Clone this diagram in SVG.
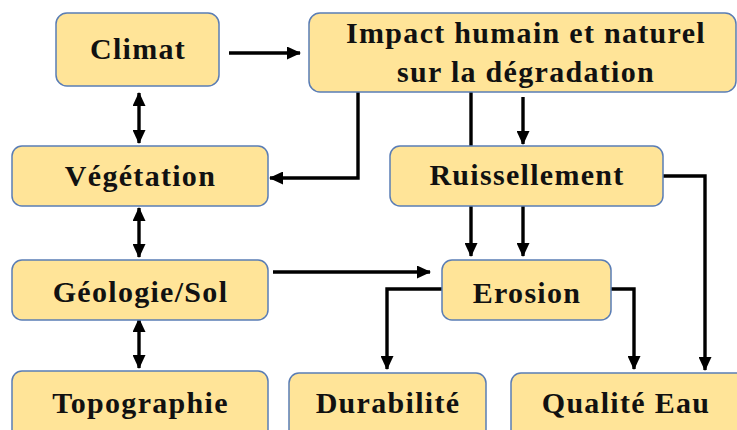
<svg xmlns="http://www.w3.org/2000/svg" width="737" height="430" viewBox="0 0 737 430">
  <style>
    .box { fill: #FFE498; stroke: #5A7DB5; stroke-width: 1.5; }
    .lbl { font-family: "Liberation Serif", "Times New Roman", serif; font-weight: bold; font-size: 30px; letter-spacing: 1.3px; fill: #111; text-anchor: middle; }
    .wire { fill: none; stroke: #000; stroke-width: 3.4; }
  </style>
  <defs>
    <marker id="head" viewBox="0 0 14 13" refX="13" refY="6.5" markerWidth="14" markerHeight="13" markerUnits="userSpaceOnUse" orient="auto-start-reverse">
      <path d="M0,0 L14,6.5 L0,13 Z" fill="#000"/>
    </marker>
  </defs>
  <rect width="737" height="430" fill="#fff"/>

  <!-- connectors -->
  <g id="connectors">
    <path class="wire" d="M229,53 H300" marker-end="url(#head)"/>
    <path class="wire" d="M139,93 V143" marker-start="url(#head)" marker-end="url(#head)"/>
    <path class="wire" d="M139,208 V257" marker-start="url(#head)" marker-end="url(#head)"/>
    <path class="wire" d="M139,319 V368" marker-start="url(#head)" marker-end="url(#head)"/>
    <path class="wire" d="M358,89 V178 H270" marker-end="url(#head)"/>
    <path class="wire" d="M471,92 V256" marker-end="url(#head)"/>
    <path class="wire" d="M523,97 V144" marker-end="url(#head)"/>
    <path class="wire" d="M523,206 V256" marker-end="url(#head)"/>
    <path class="wire" d="M663,176 H705 V370" marker-end="url(#head)"/>
    <path class="wire" d="M273,272 H430" marker-end="url(#head)"/>
    <path class="wire" d="M442,289 H387 V369" marker-end="url(#head)"/>
    <path class="wire" d="M611,289 H634 V369" marker-end="url(#head)"/>
  </g>

  <g id="climat">
    <rect class="box" x="56" y="13" width="163" height="73" rx="11"/>
    <text class="lbl" x="138" y="59">Climat</text>
  </g>
  <g id="impact">
    <rect class="box" x="309" y="13" width="427" height="79" rx="11"/>
    <text class="lbl" x="526" y="43">Impact humain et naturel</text>
    <text class="lbl" x="526" y="82">sur la dégradation</text>
  </g>
  <g id="vegetation">
    <rect class="box" x="12" y="146" width="256" height="60" rx="10"/>
    <text class="lbl" x="140.5" y="186">Végétation</text>
  </g>
  <g id="ruissellement">
    <rect class="box" x="390" y="146" width="273" height="60" rx="10"/>
    <text class="lbl" x="527" y="185">Ruissellement</text>
  </g>
  <g id="geologie">
    <rect class="box" x="12" y="260" width="256" height="60" rx="10"/>
    <text class="lbl" x="140.5" y="302">Géologie/Sol</text>
  </g>
  <g id="erosion">
    <rect class="box" x="442" y="260" width="169" height="60" rx="10"/>
    <text class="lbl" x="527" y="303">Erosion</text>
  </g>
  <g id="topographie">
    <rect class="box" x="12" y="371" width="256" height="70" rx="10"/>
    <text class="lbl" x="140.5" y="413">Topographie</text>
  </g>
  <g id="durabilite">
    <rect class="box" x="289" y="373" width="197" height="70" rx="10"/>
    <text class="lbl" x="388" y="413">Durabilité</text>
  </g>
  <g id="qualite-eau">
    <rect class="box" x="511" y="373" width="240" height="70" rx="10"/>
    <text class="lbl" x="626" y="413">Qualité Eau</text>
  </g>
</svg>
